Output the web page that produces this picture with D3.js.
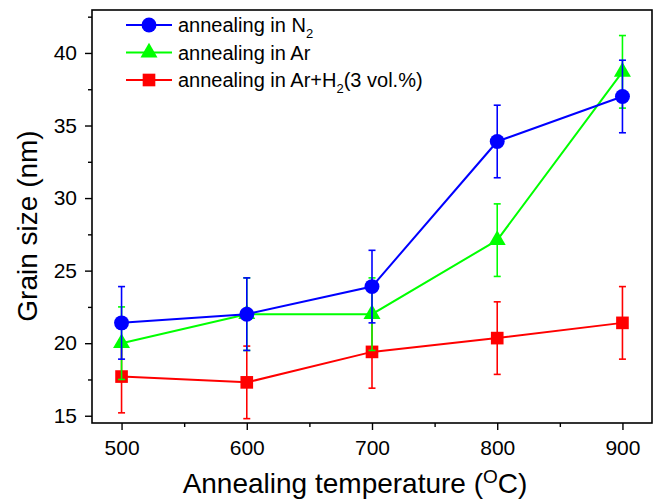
<!DOCTYPE html>
<meta charset="utf-8">
<style>
  body { margin: 0; background: #fff; }
  svg { font-family: Arial, "Liberation Sans", sans-serif; }
  .frame { fill: none; stroke: #000; stroke-width: 1.6; }
  .axis path { display: none; }
  .axis line { stroke: #000; stroke-width: 1.4; }
  .axis text { font-size: 21px; fill: #000; }
</style>
<body>
<svg width="657" height="500"></svg>
<script src="https://d3js.org/d3.v7.min.js"></script>
<script>
  // temperatures (oC)
  var temps = [500, 600, 700, 800, 900];

  // grain size (nm) and error bars
  var n2 = [21.4, 22.0, 23.9, 33.9, 37.0];
  var n2Err = [2.5, 2.5, 2.5, 2.5, 2.5];
  var ar = [20.0, 22.0, 22.0, 27.1, 38.7];
  var arErr = [2.5, 2.5, 2.5, 2.5, 2.5];
  var arH2 = [17.7, 17.3, 19.4, 20.35, 21.4];
  var arH2Err = [2.5, 2.5, 2.5, 2.5, 2.5];

  var xTicks = [500, 600, 700, 800, 900];
  var xMinor = [550, 650, 750, 850];
  var yTicks = [15, 20, 25, 30, 35, 40];
  var yMinor = [17.5, 22.5, 27.5, 32.5, 37.5, 42.5];

  var series = [
    { name: "annealing in N", sub: "2", after: "", vals: n2, err: n2Err, color: "#0000ff", shape: d3.symbolCircle, size: 175 },
    { name: "annealing in Ar", sub: "", after: "", vals: ar, err: arErr, color: "#00ff00", shape: d3.symbolTriangle, size: 125 },
    { name: "annealing in Ar+H", sub: "2", after: "(3 vol.%)", vals: arH2, err: arH2Err, color: "#ff0000", shape: d3.symbolSquare, size: 160 }
  ];

  var svg = d3.select("svg"),
    margin = { top: 10, right: 5, bottom: 77, left: 92 },
    width = +svg.attr("width") - margin.left - margin.right,
    height = +svg.attr("height") - margin.top - margin.bottom;

  var x = d3.scaleLinear().domain([476.4, 923.6]).range([0, width]);
  var y = d3.scaleLinear().domain([14.5, 42.96]).range([height, 0]);

  var g = svg.append("g")
    .attr("transform", "translate(" + margin.left + "," + margin.top + ")");

  // axes with outward ticks
  g.append("g")
    .attr("class", "axis")
    .attr("transform", "translate(0," + height + ")")
    .call(d3.axisBottom(x).tickValues(xTicks).tickSize(7).tickPadding(10));
  g.append("g")
    .attr("class", "axis")
    .attr("transform", "translate(0," + height + ")")
    .call(d3.axisBottom(x).tickValues(xMinor).tickSize(4).tickFormat(""));
  g.append("g")
    .attr("class", "axis")
    .call(d3.axisLeft(y).tickValues(yTicks).tickSize(7).tickPadding(8));
  g.append("g")
    .attr("class", "axis")
    .call(d3.axisLeft(y).tickValues(yMinor.filter(function (v) { return v < 42.96; })).tickSize(4).tickFormat(""));

  g.append("rect")
    .attr("class", "frame")
    .attr("width", width)
    .attr("height", height);

  var line = d3.line()
    .x(function (d) { return x(d[0]); })
    .y(function (d) { return y(d[1]); });

  // draw red first, blue on top
  series.slice().reverse().forEach(function (s) {
    var pts = temps.map(function (t, i) { return [t, s.vals[i], s.err[i]]; });
    var sg = g.append("g");

    sg.append("path")
      .datum(pts)
      .attr("fill", "none")
      .attr("stroke", s.color)
      .attr("stroke-width", 2)
      .attr("d", line);

    var eb = sg.selectAll(".err").data(pts).enter().append("g")
      .attr("stroke", s.color)
      .attr("stroke-width", 1.6);
    eb.append("line")
      .attr("x1", function (d) { return x(d[0]); })
      .attr("x2", function (d) { return x(d[0]); })
      .attr("y1", function (d) { return y(d[1] - d[2]); })
      .attr("y2", function (d) { return y(d[1] + d[2]); });
    [-1, 1].forEach(function (sign) {
      eb.append("line")
        .attr("x1", function (d) { return x(d[0]) - 3.5; })
        .attr("x2", function (d) { return x(d[0]) + 3.5; })
        .attr("y1", function (d) { return y(d[1] + sign * d[2]); })
        .attr("y2", function (d) { return y(d[1] + sign * d[2]); });
    });

    sg.selectAll(".pt").data(pts).enter().append("path")
      .attr("transform", function (d) { return "translate(" + x(d[0]) + "," + y(d[1]) + ")"; })
      .attr("d", d3.symbol().type(s.shape).size(s.size))
      .attr("fill", s.color);
  });

  // legend
  var leg = svg.append("g").attr("transform", "translate(126,25)");
  series.forEach(function (s, i) {
    var row = leg.append("g").attr("transform", "translate(0," + (i * 27.5) + ")");
    row.append("line")
      .attr("x1", 0).attr("x2", 46)
      .attr("stroke", s.color).attr("stroke-width", 2);
    row.append("path")
      .attr("transform", "translate(23,0)")
      .attr("d", d3.symbol().type(s.shape).size(s.size))
      .attr("fill", s.color);
    var t = row.append("text")
      .attr("x", 52).attr("y", 7)
      .style("font-size", "20px")
      .text(s.name);
    if (s.sub) {
      t.append("tspan").attr("dy", 6).style("font-size", "13px").text(s.sub);
      t.append("tspan").attr("dy", -6).text(s.after);
    }
  });

  // axis titles
  svg.append("text")
    .attr("x", 355)
    .attr("y", 493)
    .attr("text-anchor", "middle")
    .style("font-size", "28px")
    .text("Annealing temperature (")
    .append("tspan").attr("dy", -10).style("font-size", "19px").text("O")
    .select(function () { return this.parentNode; })
    .append("tspan").attr("dy", 10).text("C)");

  svg.append("text")
    .attr("transform", "translate(37,226) rotate(-90)")
    .attr("text-anchor", "middle")
    .style("font-size", "28px")
    .text("Grain size (nm)");
</script>
</body>
